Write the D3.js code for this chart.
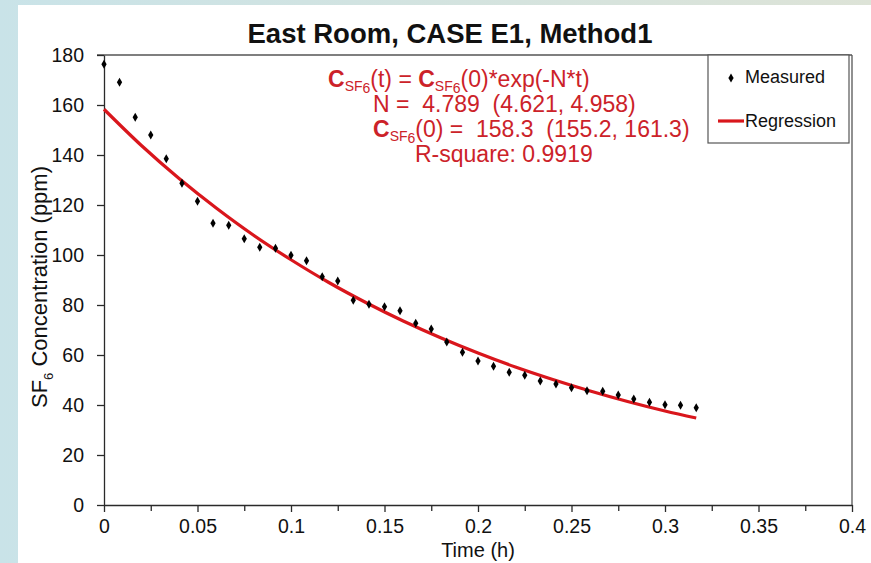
<!DOCTYPE html>
<html>
<head>
<meta charset="utf-8">
<script src="https://cdn.jsdelivr.net/npm/d3@7"></script>
<style>
  html, body { margin: 0; padding: 0; }
  body { width: 871px; height: 563px; overflow: hidden; }
  svg text { font-family: "Liberation Sans", Arial, sans-serif; }
</style>
</head>
<body>
<svg id="chart" width="871" height="563"></svg>
<script>
// ---- data ----
const timeH = [0, 0.0083, 0.0167, 0.025, 0.0333, 0.0417, 0.05, 0.0583, 0.0667, 0.075,
  0.0833, 0.0917, 0.1, 0.1083, 0.1167, 0.125, 0.1333, 0.1417, 0.15, 0.1583,
  0.1667, 0.175, 0.1833, 0.1917, 0.2, 0.2083, 0.2167, 0.225, 0.2333, 0.2417,
  0.25, 0.2583, 0.2667, 0.275, 0.2833, 0.2917, 0.3, 0.3083, 0.3167];
const measured = [176.3, 169.1, 155.1, 148.0, 138.5, 128.7, 121.5, 112.7, 111.9, 106.5,
  103.1, 102.7, 99.9, 97.7, 91.3, 89.6, 81.9, 80.3, 79.3, 77.7,
  72.7, 70.4, 65.2, 61.1, 57.6, 55.5, 53.1, 51.9, 49.6, 48.4,
  46.9, 45.7, 45.5, 44.0, 42.4, 41.1, 40.1, 39.9, 38.9];
const regTime = [0, 0.02, 0.04, 0.06, 0.08, 0.10, 0.12, 0.14, 0.16, 0.18, 0.20, 0.22, 0.24, 0.26, 0.28, 0.30, 0.3167];
const regValue = [158.3, 143.8, 130.7, 118.8, 107.9, 98.1, 89.1, 81.0, 73.6, 66.9, 60.8, 55.2, 50.2, 45.6, 41.4, 37.6, 34.8];
const xTicks = [0, 0.05, 0.1, 0.15, 0.2, 0.25, 0.3, 0.35, 0.4];
const xTickLabels = ["0", "0.05", "0.1", "0.15", "0.2", "0.25", "0.3", "0.35", "0.4"];
const xMinorTicks = [0.025, 0.075, 0.125, 0.175, 0.225, 0.275, 0.325, 0.375];
const yTicks = [0, 20, 40, 60, 80, 100, 120, 140, 160, 180];
const yTickLabels = ["0", "20", "40", "60", "80", "100", "120", "140", "160", "180"];
const titleText = "East Room, CASE E1, Method1";
const legendLabels = ["Measured", "Regression"];

// ---- drawing ----
const svg = d3.select("#chart");
const W = 871, H = 563;
const NB = "\u00a0";

const defs = svg.append("defs");
const grad = defs.append("linearGradient").attr("id", "bg").attr("x1", "0").attr("x2", "1").attr("y1", "0").attr("y2", "0");
grad.append("stop").attr("offset", "0").attr("stop-color", "#c9e3e8");
grad.append("stop").attr("offset", "1").attr("stop-color", "#dde3d7");
svg.append("rect").attr("width", W).attr("height", H).attr("fill", "url(#bg)");
svg.append("rect").attr("x", 18).attr("y", 5).attr("width", W - 18).attr("height", H - 5).attr("fill", "#ffffff");

const x = d3.scaleLinear().domain([0, 0.4]).range([104, 852]);
const y = d3.scaleLinear().domain([0, 180]).range([505, 55]);
const axisColor = "#2a2a2a";

// frame (top + right)
svg.append("line").attr("x1", x(0) - 7).attr("x2", x(0.4)).attr("y1", y(180)).attr("y2", y(180))
  .attr("stroke", "#555").attr("stroke-width", 1.3);
svg.append("line").attr("x1", x(0.4)).attr("x2", x(0.4)).attr("y1", y(180)).attr("y2", y(0))
  .attr("stroke", "#555").attr("stroke-width", 1.3);

// x axis
const xAxis = svg.append("g").attr("transform", `translate(0,${y(0)})`)
  .call(d3.axisBottom(x).tickValues(xTicks).tickSize(7).tickSizeOuter(0)
    .tickFormat((d, i) => xTickLabels[i]));
const xMinor = svg.append("g").attr("transform", `translate(0,${y(0)})`)
  .call(d3.axisBottom(x).tickValues(xMinorTicks).tickSize(6).tickSizeOuter(0).tickFormat(""));
xMinor.select(".domain").remove();
[xAxis, xMinor].forEach(g => {
  g.selectAll("path,line").attr("stroke", axisColor).attr("stroke-width", 1.3);
});
xAxis.selectAll("text").attr("fill", "#111").attr("font-size", 19.5)
  .attr("y", 14).attr("dy", "0.71em");

// y axis
const yAxis = svg.append("g").attr("transform", `translate(${x(0)},0)`)
  .call(d3.axisLeft(y).tickValues(yTicks).tickSize(7).tickSizeOuter(0)
    .tickFormat((d, i) => yTickLabels[i]));
yAxis.selectAll("path,line").attr("stroke", axisColor).attr("stroke-width", 1.3);
yAxis.selectAll("text").attr("fill", "#111").attr("font-size", 19.5).attr("x", -20);

// regression curve
const line = d3.line().x((d, i) => x(regTime[i])).y(d => y(d)).curve(d3.curveCatmullRom);
svg.append("path").datum(regValue).attr("d", line)
  .attr("fill", "none").attr("stroke", "#d9161c").attr("stroke-width", 3.2);

// measured points
const diamond = d3.symbol().type(d3.symbolDiamond).size(24);
svg.append("g").selectAll("path").data(measured).join("path")
  .attr("transform", (d, i) => `translate(${x(timeH[i])},${y(d)})`)
  .attr("d", diamond).attr("fill", "#000");

// title
svg.append("text").attr("x", 450).attr("y", 43).attr("text-anchor", "middle")
  .attr("font-size", 27.5).attr("font-weight", "bold").attr("fill", "#111").text(titleText);

// axis labels
svg.append("text").attr("x", x(0.2)).attr("y", 557).attr("text-anchor", "middle")
  .attr("font-size", 20).attr("fill", "#111").text("Time (h)");
const yl = svg.append("text").attr("transform", `translate(47,287) rotate(-90)`)
  .attr("text-anchor", "middle").attr("font-size", 22).attr("fill", "#111");
yl.append("tspan").text("SF");
yl.append("tspan").attr("font-size", 13).attr("dy", 6).text("6");
yl.append("tspan").attr("dy", -6).text(NB + "Concentration (ppm)");

// annotation
const red = "#cc2229";
const ann = svg.append("g").attr("fill", red).attr("font-size", 23);
function csf(t) {
  t.append("tspan").attr("font-weight", "bold").text("C");
  t.append("tspan").attr("font-size", 14).attr("dy", 4).text("SF");
  t.append("tspan").attr("font-size", 14).attr("dy", 1.5).text("6");
}
const l1 = ann.append("text").attr("x", 328).attr("y", 87);
csf(l1);
l1.append("tspan").attr("dy", -5.5).text("(t) = ");
csf(l1);
l1.append("tspan").attr("dy", -5.5).text("(0)*exp(-N*t)");
ann.append("text").attr("x", 373).attr("y", 112)
  .text("N =" + NB + NB + "4.789" + NB + NB + "(4.621, 4.958)");
const l3 = ann.append("text").attr("x", 373).attr("y", 137);
csf(l3);
l3.append("tspan").attr("dy", -5.5).text("(0) =" + NB + NB + "158.3" + NB + NB + "(155.2, 161.3)");
ann.append("text").attr("x", 415).attr("y", 162).text("R-square: 0.9919");

// legend
const lg = svg.append("g");
lg.append("rect").attr("x", 708).attr("y", 55).attr("width", 141).attr("height", 88)
  .attr("fill", "#fff").attr("stroke", "#555").attr("stroke-width", 1.2);
lg.append("path").attr("transform", "translate(731,78)").attr("d", diamond).attr("fill", "#000");
lg.append("text").attr("x", 745).attr("y", 83).attr("font-size", 18).attr("fill", "#111").text(legendLabels[0]);
lg.append("line").attr("x1", 718).attr("x2", 744).attr("y1", 121).attr("y2", 121)
  .attr("stroke", "#d9161c").attr("stroke-width", 3.2);
lg.append("text").attr("x", 745).attr("y", 127).attr("font-size", 18).attr("fill", "#111").text(legendLabels[1]);
</script>
</body>
</html>
